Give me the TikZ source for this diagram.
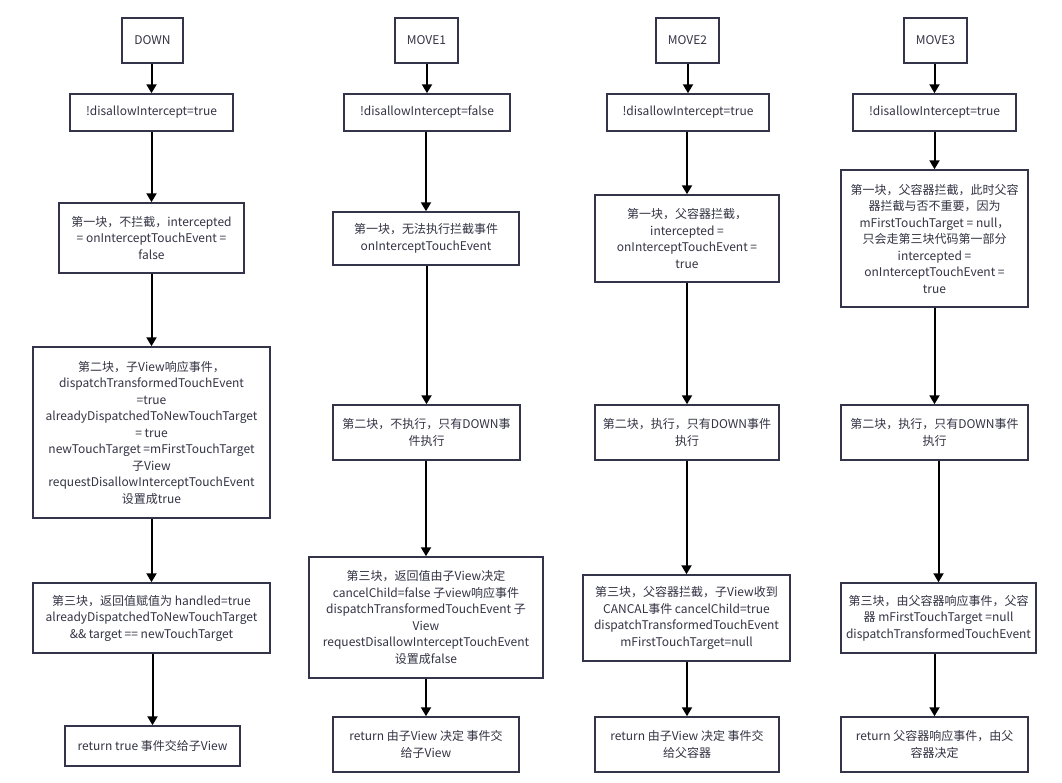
\documentclass[tikz,border=0pt]{standalone}
\usepackage{fontspec}
\setmainfont{Noto Sans CJK SC}
\usetikzlibrary{arrows.meta}
\definecolor{boxline}{HTML}{33334A}
\definecolor{txt}{HTML}{333344}
\tikzset{
  box/.style={draw=boxline, line width=1.5pt, fill=white, align=center, inner sep=0pt,
    text=txt, font=\fontsize{12}{16.5}\selectfont},
  arr/.style={draw=black, line width=2pt, -{Triangle[width=10pt,length=9pt]}}
}
\newcommand{\bx}[6]{\node[box, minimum width=#4pt, minimum height=#5pt] (#1) at (#2,#3) {#6};}
\begin{document}
\begin{tikzpicture}[x=1pt,y=-1pt]
\useasboundingbox (0,0) rectangle (1062,782);
% column 1
\bx{d1}{152.5}{40.5}{61}{45}{DOWN}
\bx{s1}{151.5}{112.5}{163}{37}{!disallowIntercept=true}
\bx{a1}{151.5}{238}{185}{70}{第一块，不拦截，intercepted\\= onInterceptTouchEvent =\\false}
\bx{b1}{151.5}{432.5}{237}{171}{第二块，子View响应事件，\\dispatchTransformedTouchEvent\\=true\\alreadyDispatchedToNewTouchTarget\\= true\\newTouchTarget =mFirstTouchTarget\\子View\\requestDisallowInterceptTouchEvent\\设置成true}
\bx{c1}{151.5}{618}{237}{70}{第三块，返回值赋值为 handled=true\\alreadyDispatchedToNewTouchTarget\\\&\& target == newTouchTarget}
\bx{r1}{152.5}{746}{175}{40}{return true 事件交给子View}
% column 2
\bx{d2}{426.5}{40.5}{63}{45}{MOVE1}
\bx{s2}{427}{112.5}{166}{37}{!disallowIntercept=false}
\bx{a2}{426}{238.5}{186}{53}{第一块，无法执行拦截事件\\onInterceptTouchEvent}
\bx{b2}{426.5}{432.5}{187}{55}{第二块，不执行，只有DOWN事\\件执行}
\bx{c2}{426}{617.5}{234}{121}{第三块，返回值由子View决定\\cancelChild=false 子view响应事件\\dispatchTransformedTouchEvent 子\\View\\requestDisallowInterceptTouchEvent\\设置成false}
\bx{r2}{426}{744.5}{186}{55}{return 由子View 决定 事件交\\给子View}
% column 3
\bx{d3}{687.5}{40.5}{63}{45}{MOVE2}
\bx{s3}{688}{112.5}{162}{37}{!disallowIntercept=true}
\bx{a3}{687}{238.5}{184}{87}{第一块，父容器拦截，\\intercepted =\\onInterceptTouchEvent =\\true}
\bx{b3}{687}{432.5}{184}{55}{第二块，执行，只有DOWN事件\\执行}
\bx{c3}{686.5}{618}{207}{86}{第三块，父容器拦截，子View收到\\CANCAL事件 cancelChild=true\\dispatchTransformedTouchEvent\\mFirstTouchTarget=null}
\bx{r3}{687}{744.5}{184}{55}{return 由子View 决定 事件交\\给父容器}
% column 4
\bx{d4}{935.5}{40.5}{63}{45}{MOVE3}
\bx{s4}{934.5}{112.5}{163}{37}{!disallowIntercept=true}
\bx{a4}{934.5}{238.5}{187}{137}{第一块，父容器拦截，此时父容\\器拦截与否不重要，因为\\mFirstTouchTarget = null，\\只会走第三块代码第一部分\\intercepted =\\onInterceptTouchEvent =\\true}
\bx{b4}{934.5}{432.5}{187}{55}{第二块，执行，只有DOWN事件\\执行}
\bx{c4}{938.5}{618}{195}{70}{第三块，由父容器响应事件，父容\\器 mFirstTouchTarget =null\\dispatchTransformedTouchEvent}
\bx{r4}{934.5}{744.5}{187}{55}{return 父容器响应事件，由父\\容器决定}
% arrows
\foreach \c in {1,2,3,4}{
  \draw[arr] (s\c.north |- d\c.south) -- (s\c.north);
  \draw[arr] (a\c.north |- s\c.south) -- (a\c.north);
  \draw[arr] (b\c.north |- a\c.south) -- (b\c.north);
  \draw[arr] (c\c.north |- b\c.south) -- (c\c.north);
  \draw[arr] (r\c.north |- c\c.south) -- (r\c.north);
}
\end{tikzpicture}
\end{document}
